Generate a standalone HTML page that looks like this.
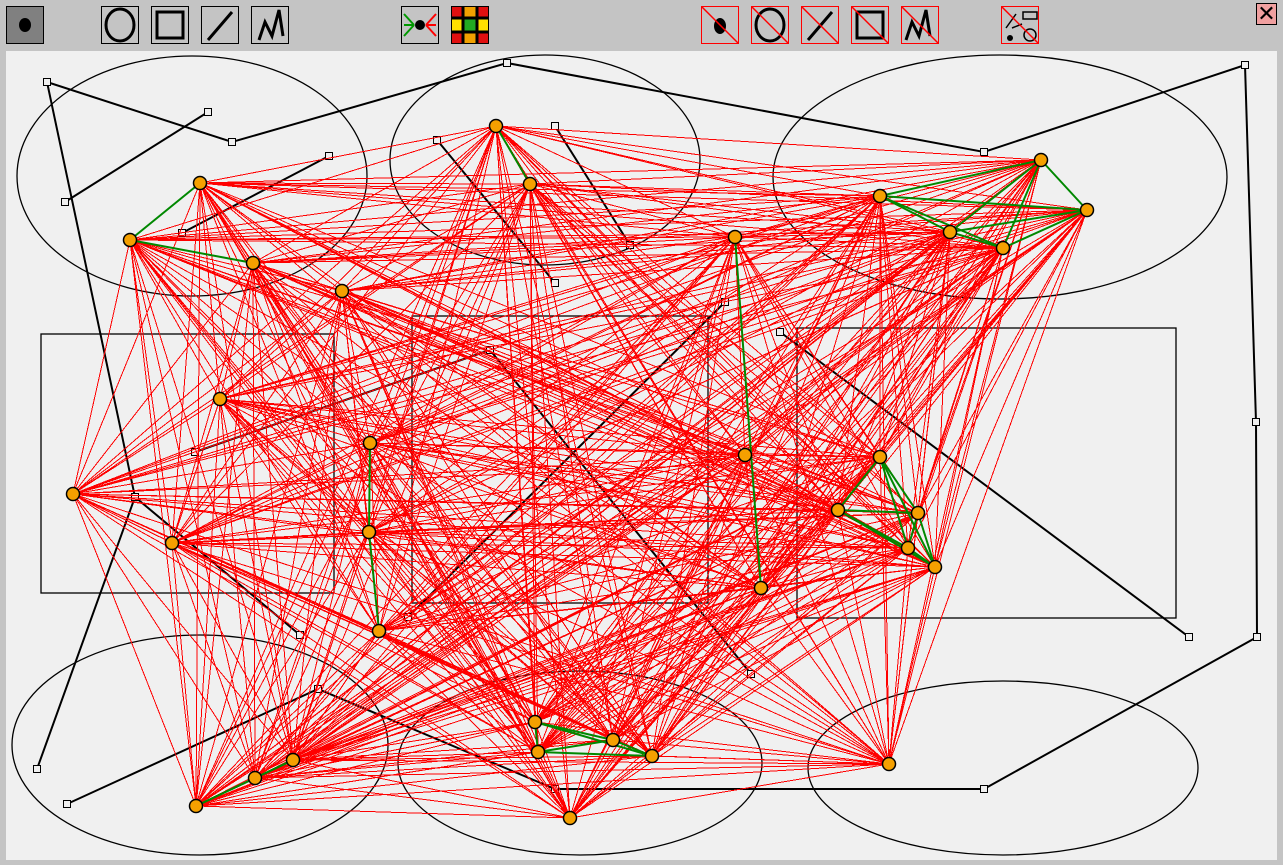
<!DOCTYPE html>
<html><head><meta charset="utf-8"><style>
body{margin:0;width:1283px;height:865px;background:#c4c4c4;overflow:hidden;font-family:"Liberation Sans",sans-serif}
.tb{position:absolute;top:6px;width:38px;height:38px;box-sizing:border-box;border:1px solid #000;background:#c4c4c4}
.tb.r{border-color:#f00}
svg{position:absolute;left:0;top:0}
</style></head><body>
<div style="position:absolute;left:0;top:0;width:1283px;height:51px;background:#c4c4c4"></div>
<div class="tb" style="left:6px;background:#808080"><div style="width:12px;height:14px;border-radius:50%;background:#000;margin:11px 0 0 12px"></div></div>
<div class="tb" style="left:101px"></div>
<div class="tb" style="left:151px"></div>
<div class="tb" style="left:201px"></div>
<div class="tb" style="left:251px"></div>
<div class="tb" style="left:401px"></div>
<div class="tb" style="left:451px;background:#e01010"></div>
<div class="tb r" style="left:701px"></div>
<div class="tb r" style="left:751px"></div>
<div class="tb r" style="left:801px"></div>
<div class="tb r" style="left:851px"></div>
<div class="tb r" style="left:901px"></div>
<div class="tb r" style="left:1001px"></div>
<div style="position:absolute;left:1256px;top:3px;width:21px;height:22px;box-sizing:border-box;border:1px solid #000;background:#f0a0a0;text-align:center;font-size:22px;line-height:20px">✕</div>
<svg width="1283" height="865" style="pointer-events:none">
<g stroke="#000" stroke-width="3" fill="none">
<ellipse cx="120" cy="25" rx="14" ry="16"/><rect x="157" y="12" width="26" height="26"/>
<line x1="208" y1="40" x2="232" y2="12"/><polyline points="259,40 265,22 272,36 279,10 283,36"/>
</g>
<g stroke-width="2"><line x1="404" y1="14" x2="414" y2="25" stroke="#090"/><line x1="404" y1="36" x2="414" y2="25" stroke="#090"/><line x1="404" y1="25" x2="414" y2="25" stroke="#090"/>
<line x1="436" y1="14" x2="426" y2="25" stroke="#f00"/><line x1="436" y1="36" x2="426" y2="25" stroke="#f00"/><line x1="436" y1="25" x2="426" y2="25" stroke="#f00"/></g>
<ellipse cx="420" cy="25" rx="5" ry="5"/>
<rect x="452" y="19" width="36" height="12" fill="#ffe000"/><rect x="464" y="7" width="12" height="36" fill="#f0a000"/><rect x="464" y="19" width="12" height="12" fill="#2a2"/>
<g stroke="#000" stroke-width="3"><line x1="463" y1="7" x2="463" y2="43"/><line x1="477" y1="7" x2="477" y2="43"/><line x1="452" y1="18" x2="488" y2="18"/><line x1="452" y1="32" x2="488" y2="32"/></g>
<ellipse cx="720" cy="26" rx="6" ry="8"/>
<g stroke="#000" stroke-width="3" fill="none"><ellipse cx="770" cy="25" rx="14" ry="16"/><line x1="808" y1="40" x2="832" y2="12"/><rect x="857" y="12" width="26" height="26"/><polyline points="906,40 912,22 919,36 926,10 930,36"/></g>
<g stroke="#000" stroke-width="1.5" fill="none"><line x1="1006" y1="28" x2="1016" y2="14"/><rect x="1023" y="12" width="14" height="7"/><circle cx="1030" cy="35" r="6"/><line x1="1012" y1="28" x2="1022" y2="24"/></g><circle cx="1010" cy="38" r="3"/>
<g stroke="#f00" stroke-width="1.5"><line x1="702" y1="7" x2="738" y2="43"/><line x1="752" y1="7" x2="788" y2="43"/><line x1="802" y1="7" x2="838" y2="43"/><line x1="852" y1="7" x2="888" y2="43"/><line x1="902" y1="7" x2="938" y2="43"/><line x1="1002" y1="7" x2="1038" y2="43"/></g>
</svg>
<svg id="cv" width="1283" height="865"></svg>
<script>
const px=[200,130,253,342,496,530,735,880,1041,1087,950,1003,220,370,73,172,369,379,745,880,838,918,908,935,761,535,538,613,652,570,889,255,196,293];
const py=[183,240,263,291,126,184,237,196,160,210,232,248,399,443,494,543,532,631,455,457,510,513,548,567,588,722,752,740,756,818,764,778,806,760];
const clusters=[[0,1],[1,2],[4,5],[13,16],[16,17],[6,24],[7,8,9,10,11],[19,20,21,22,23],[25,26,27,28],[31,32,33]];
const ellipses=[[192,176,175,120],[545,160,155,105],[1000,177,227,122],[200,745,188,110],[580,763,182,92],[1003,768,195,87]];
const rects=[[41,334,293,259],[412,316,296,287],[797,328,379,290]];
const polys=[[[37,769],[135,497],[47,82],[232,142],[507,63],[984,152],[1245,65],[1256,422],[1257,637],[984,789],[555,789],[318,689],[67,804]],
[[65,202],[208,112]],[[182,233],[329,156]],[[437,140],[555,283]],[[555,126],[630,245]],[[725,302],[408,617]],[[195,452],[490,350]],[[490,350],[751,674]],[[780,332],[1189,637]],[[300,635],[135,497]]];
const NS='http://www.w3.org/2000/svg',cv=document.getElementById('cv');
function mk(t,a){const e=document.createElementNS(NS,t);for(const k in a)e.setAttribute(k,a[k]);cv.appendChild(e);return e;}
const bg=mk('rect',{x:6,y:51,width:1271,height:809,fill:'#f0f0f0'});


ellipses.forEach(e=>{const el=mk('ellipse',{cx:e[0],cy:e[1],rx:e[2],ry:e[3],fill:'none',stroke:'#000','stroke-width':1.3});

});
rects.forEach(r=>{const el=mk('rect',{x:r[0],y:r[1],width:r[2],height:r[3],fill:'none',stroke:'#000','stroke-width':1.3});

});
polys.forEach(p=>{const el=mk('polyline',{points:p.map(q=>q.join(',')).join(' '),fill:'none',stroke:'#000','stroke-width':2});


p.forEach(q=>{const s=mk('rect',{x:q[0]-3.5,y:q[1]-3.5,width:7,height:7,fill:'#f0f0f0',stroke:'#000','stroke-width':1});

});});
const green=new Set();
clusters.forEach(c=>{for(let i=0;i<c.length;i++)for(let j=i+1;j<c.length;j++)green.add(c[i]+'-'+c[j]);});
for(let i=0;i<px.length;i++)for(let j=i+1;j<px.length;j++){if(green.has(i+'-'+j))continue;
const l=mk('line',{x1:px[i],y1:py[i],x2:px[j],y2:py[j],stroke:'#f00','stroke-width':1,'shape-rendering':'crispEdges'});

}
green.forEach(k=>{const [i,j]=k.split('-').map(Number);
const l=mk('line',{x1:px[i],y1:py[i],x2:px[j],y2:py[j],stroke:'#080','stroke-width':2});

});
for(let i=0;i<px.length;i++){const c=mk('circle',{cx:px[i],cy:py[i],r:6.5,fill:'#f5a000',stroke:'#000','stroke-width':1.5});

}
</script>
</body></html>
